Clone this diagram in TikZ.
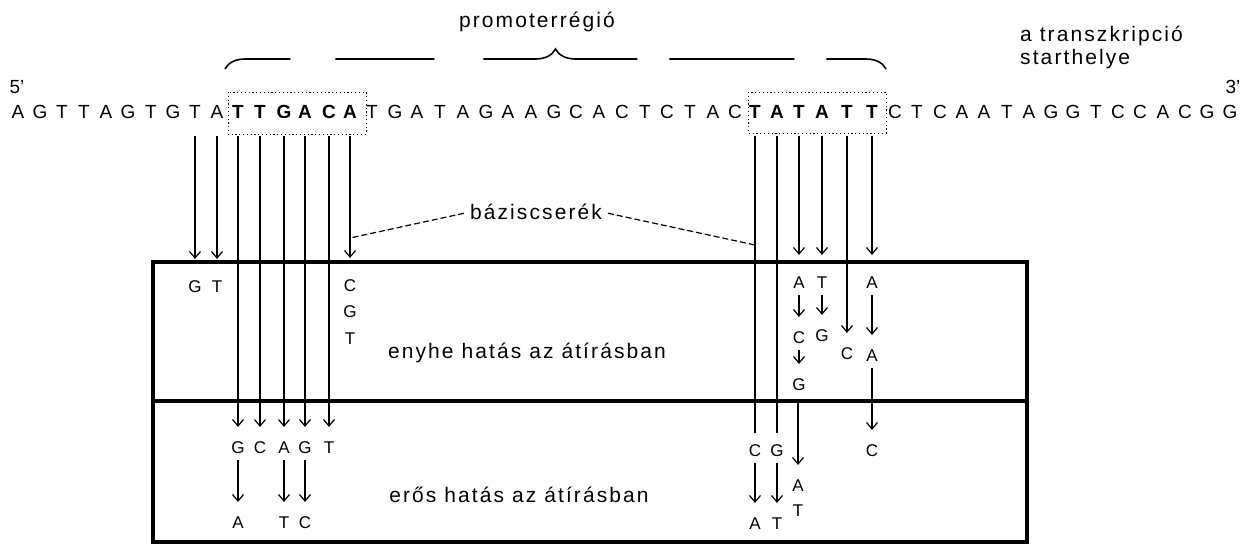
\documentclass[tikz,border=0pt]{standalone}
\usepackage{fontspec}
\setmainfont{Liberation Sans}
\newfontfamily\spaced[LetterSpace=10]{Liberation Sans}
\usetikzlibrary{arrows.meta,decorations.pathreplacing}

\begin{document}
\begin{tikzpicture}[x=1pt,y=-1pt,
  seq/.style={font=\fontsize{19}{19}\selectfont, inner sep=0pt, text height=13.6pt,
              text depth=0pt, outer xsep=0pt, outer ysep=17pt},
  seqb/.style={seq, font=\fontsize{19}{19}\selectfont\bfseries},
  base/.style={font=\fontsize{17}{17}\selectfont, inner sep=0pt, text height=12.2pt,
               text depth=0pt, outer sep=7pt},
  caption/.style={font=\spaced\fontsize{21}{23}\selectfont, inner sep=0pt},
  arr/.style={line width=1.2pt, -{Straight Barb[length=6.5pt,width=11pt]}, shorten >=7pt},
  arrtop/.style={arr, shorten >=14pt},
  stem/.style={line width=1.2pt, shorten >=4pt},
  frame/.style={line width=3.4pt},
  motif/.style={line width=1pt, dash pattern=on 1.2pt off 2.6pt},
  pointer/.style={line width=1.2pt, dash pattern=on 6pt off 3pt},
]
\useasboundingbox (0,0) rectangle (1250,544);

% --- DNA sequence, 5' -> 3'
\foreach \k/\x/\c in {0/18/A,1/40/G,2/62/T,3/84/T,4/106/A,5/128/G,6/151/T,7/173/G,8/195/T,9/217/A,
  16/372/T,17/395/G,18/417/A,19/440/T,20/463/A,21/486/G,22/508/A,23/531/A,24/554/G,25/576/C,
  26/599/A,27/622/C,28/645/T,29/667/C,30/690/T,31/713/A,32/735/C,
  39/895/C,40/917/T,41/940/C,42/962/A,43/984/A,44/1007/T,45/1029/A,46/1051/G,47/1073/G,
  48/1096/T,49/1118/C,50/1140/C,51/1163/A,52/1185/C,53/1207/G,54/1230/G}
  \node[seq] (s\k) at (\x,112) {\c};
\foreach \k/\x/\c in {10/238/T,11/260/T,12/284/G,13/305/A,14/329/C,15/350/A,
  33/755/T,34/777/A,35/799/T,36/822/A,37/847/T,38/872/T}
  \node[seqb] (s\k) at (\x,112) {\c};

\node[font=\fontsize{19}{19}\selectfont, inner sep=0pt] (end5) at (17,87) {5'};
\node[font=\fontsize{19}{19}\selectfont, inner sep=0pt] (end3) at (1233,87) {3'};

% --- consensus boxes (-35 and -10)
\draw[motif] (228,92) rectangle (366,134);
\draw[motif] (748,92) rectangle (886,133);

% --- promoter brace and captions
\draw[line width=1.6pt, decorate, decoration={brace, amplitude=20pt},
      dash pattern=on 69pt off 45pt on 99pt off 49pt on 161pt off 32pt on 125pt off 32pt on 90pt]
  (225,69) -- (886,69);
\node[caption] (promo) at (537,22) {promoterrégió};
\node[caption, anchor=north west, align=left] (start) at (1020,26) {a transzkripció\\starthelye};

% --- effect panels
\draw[frame] (153,262) rectangle (1027,542);
\draw[frame] (153,401) -- (1027,401);
\node[caption] (mild) at (527,353) {enyhe hatás az átírásban};
\node[caption] (strong) at (519,495) {erős hatás az átírásban};

% --- base substitution label
\node[caption] (subst) at (536,212) {báziscserék};
\coordinate (hitL) at (350,238);
\coordinate (hitR) at (755,245);
\draw[pointer, shorten <=6pt] (subst.west) -- (hitL);
\draw[pointer, shorten <=6pt] (subst.east) -- (hitR);

% --- mild-effect substitutions (upper panel)
\node[base] (a1) at (195,286) {G};
\node[base] (a2) at (217,286) {T};
\node[base] (c1) at (350,285) {C};
\node[base] (c2) at (350,311) {G};
\node[base] (c3) at (350,338) {T};
\draw[arrtop] (s8) -- (a1);
\draw[arrtop] (s9) -- (a2);
\draw[arrtop] (s15) -- (c1);

\node[base] (r1) at (799,282) {A};
\node[base] (r2) at (799,337) {C};
\node[base] (r3) at (799,384) {G};
\draw[arrtop] (s35) -- (r1);
\draw[arr] (r1) -- (r2);
\draw[arr] (r2) -- (r3);

\node[base] (r4) at (822,282) {T};
\node[base] (r5) at (822,335) {G};
\draw[arrtop] (s36) -- (r4);
\draw[arr] (r4) -- (r5);

\node[base] (r6) at (847,353) {C};
\draw[arr] (s37) -- (r6);

\node[base] (r7) at (872,282) {A};
\node[base] (r8) at (872,355) {A};
\node[base] (r9) at (872,450) {C};
\draw[arrtop] (s38) -- (r7);
\draw[arr] (r7) -- (r8);
\draw[arr] (r8) -- (r9);

% --- strong-effect substitutions (lower panel)
\node[base] (b1) at (238,447) {G};
\node[base] (b2) at (260,447) {C};
\node[base] (b3) at (284,447) {A};
\node[base] (b4) at (305,447) {G};
\node[base] (b5) at (329,447) {T};
\draw[arr] (s10) -- (b1);
\draw[arr] (s11) -- (b2);
\draw[arr] (s12) -- (b3);
\draw[arr] (s13) -- (b4);
\draw[arr] (s14) -- (b5);

\node[base] (b6) at (238,522) {A};
\node[base] (b7) at (284,522) {T};
\node[base] (b8) at (305,522) {C};
\draw[arr] (b1) -- (b6);
\draw[arr] (b3) -- (b7);
\draw[arr] (b4) -- (b8);

\node[base] (r10) at (755,450) {C};
\node[base] (r11) at (777,450) {G};
\draw[stem] (s33) -- (r10);
\draw[stem] (s34) -- (r11);
\node[base] (r12) at (755,523) {A};
\node[base] (r13) at (777,523) {T};
\draw[arr] (r10) -- (r12);
\draw[arr] (r11) -- (r13);

\coordinate (d1) at (798,403);
\node[base] (r14) at (798,485) {A};
\node[base] (r15) at (798,510) {T};
\draw[arr] (d1) -- (r14);
\end{tikzpicture}
\end{document}
